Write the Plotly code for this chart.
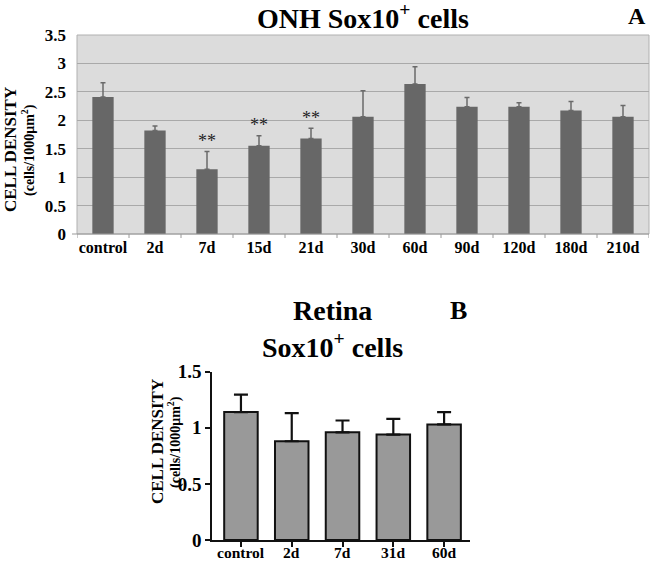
import plotly.graph_objects as go

# panel A: ONH Sox10+ cells
onh_days = ['control', '2d', '7d', '15d', '21d', '30d', '60d', '90d', '120d', '180d', '210d']
onh_mean = [2.41, 1.82, 1.14, 1.55, 1.68, 2.06, 2.64, 2.24, 2.24, 2.17, 2.06]
onh_err = [0.25, 0.08, 0.31, 0.18, 0.18, 0.46, 0.30, 0.16, 0.07, 0.16, 0.20]
onh_sig = ['', '', '**', '**', '**', '', '', '', '', '', '']

# panel B: Retina Sox10+ cells
ret_days = ['control', '2d', '7d', '31d', '60d']
ret_mean = [1.14, 0.88, 0.96, 0.94, 1.03]
ret_err = [0.155, 0.25, 0.105, 0.14, 0.11]

FONT = 'Liberation Serif'
W, H = 651, 561


def px(x):
    return x / W


def py(y):
    return 1 - y / H


def label(text, x, y, size, angle=0):
    return dict(text=text, xref='paper', yref='paper', x=px(x), y=py(y),
                xanchor='center', yanchor='middle', textangle=angle,
                showarrow=False, font=dict(family=FONT, size=size, color='black'))


fig = go.Figure()

fig.add_trace(go.Bar(
    x=list(range(len(onh_days))), y=onh_mean,
    marker=dict(color='#676767', line=dict(width=0)),
    error_y=dict(type='data', array=onh_err, arrayminus=[0] * len(onh_err),
                 color='#6a6a6a', thickness=1.5, width=2.5),
    xaxis='x', yaxis='y', width=0.41, showlegend=False,
))

# significance stars only where there is one
sig_idx = [i for i, s in enumerate(onh_sig) if s]
fig.add_trace(go.Scatter(
    x=sig_idx, y=[onh_mean[i] + onh_err[i] for i in sig_idx],
    text=[onh_sig[i] for i in sig_idx], mode='text', textposition='top center',
    textfont=dict(family=FONT, size=18, color='#222'),
    xaxis='x', yaxis='y', showlegend=False, cliponaxis=False,
))

fig.add_trace(go.Bar(
    x=list(range(len(ret_days))), y=ret_mean,
    marker=dict(color='#999999', line=dict(color='#111', width=2)),
    error_y=dict(type='data', array=ret_err, arrayminus=[0] * len(ret_err),
                 color='#111', thickness=2.2, width=7),
    xaxis='x2', yaxis='y2', width=0.66, showlegend=False,
))

# panel B category labels sit very close to the bottom edge, so place them by hand
ret_labels = [
    dict(text='<b>%s</b>' % d, xref='x2', yref='paper', x=i, y=py(552),
         xanchor='center', yanchor='middle', showarrow=False,
         font=dict(family=FONT, size=15.5, color='black'))
    for i, d in enumerate(ret_days)
]

fig.update_layout(
    width=W, height=H,
    margin=dict(l=0, r=0, t=0, b=0),
    paper_bgcolor='white',
    plot_bgcolor='white',
    font=dict(family=FONT, color='black'),
    xaxis=dict(
        domain=[px(77), px(649)], anchor='y', range=[-0.5, 10.5], automargin=False,
        tickmode='array', tickvals=list(range(len(onh_days))),
        ticktext=['<b>%s</b>' % d for d in onh_days], ticks='', ticklabelstandoff=2,
        tickfont=dict(family=FONT, size=16, color='black'),
        showgrid=False, zeroline=False, showline=False,
    ),
    yaxis=dict(
        domain=[py(234), py(35)], anchor='x', range=[0, 3.5], automargin=False,
        tickvals=[0, 0.5, 1, 1.5, 2, 2.5, 3, 3.5],
        ticktext=['<b>%s</b>' % t for t in ['0', '0.5', '1', '1.5', '2', '2.5', '3', '3.5']],
        tickfont=dict(family=FONT, size=17, color='black'), ticks='', ticklabelstandoff=10,
        showgrid=True, gridcolor='#a9a9a9', gridwidth=1.2,
        zeroline=False, showline=False,
    ),
    xaxis2=dict(
        domain=[px(212), px(470)], anchor='y2', range=[-0.57, 4.51], automargin=False,
        tickmode='array', tickvals=list(range(len(ret_days))), showticklabels=False,
        ticks='outside', ticklen=5, tickwidth=1.5, tickcolor='#111',
        showgrid=False, zeroline=False, showline=True, linecolor='#111', linewidth=1.5,
    ),
    yaxis2=dict(
        domain=[py(540), py(371.7)], anchor='x2', range=[0, 1.5], automargin=False,
        tickvals=[0, 0.5, 1, 1.5],
        ticktext=['<b>%s</b>' % t for t in ['0', '0.5', '1', '1.5']],
        ticks='outside', ticklen=5, tickwidth=1.5, tickcolor='#111',
        tickfont=dict(family=FONT, size=19, color='black'), showgrid=False, zeroline=False,
        showline=True, linecolor='#111', linewidth=1.5,
    ),
    shapes=[
        # panel A plot background
        dict(type='rect', xref='paper', yref='paper', layer='below',
             x0=px(77), x1=px(649), y0=py(234), y1=py(35),
             fillcolor='#dcdcdc', line=dict(color='#b0b0b0', width=1)),
        # panel A x axis line
        dict(type='line', xref='paper', yref='paper',
             x0=px(72), x1=px(649), y0=py(234), y1=py(234),
             line=dict(color='#9a9a9a', width=1.2)),
    ] + [
        dict(type='line', xref='x', yref='paper', x0=i - 0.5, x1=i - 0.5,
             y0=py(234), y1=py(238), line=dict(color='#9a9a9a', width=1))
        for i in range(len(onh_days) + 1)
    ],
    annotations=[
        label('<b>ONH Sox10<sup>+</sup> cells</b>', 363, 17, 28),
        label('<b>A</b>', 637, 16, 24),
        label('<b>CELL DENSITY</b>', 11, 150, 17, -90),
        label('<b>(cells/1000μm<sup>2</sup>)</b>', 29, 150, 14, -90),
        label('<b>Retina</b>', 332, 310, 28),
        label('<b>Sox10<sup>+</sup> cells</b>', 332, 345, 28),
        label('<b>B</b>', 458, 310, 26),
        label('<b>CELL DENSITY</b>', 157, 442, 17, -90),
        label('<b>(cells/1000μm<sup>2</sup>)</b>', 174, 442, 14, -90),
    ] + ret_labels,
)

# drop the browser's default body margin so the figure sits at the window origin
fig.write_html("out.html", config={'displayModeBar': False},
               post_script="document.body.style.margin='0';")
